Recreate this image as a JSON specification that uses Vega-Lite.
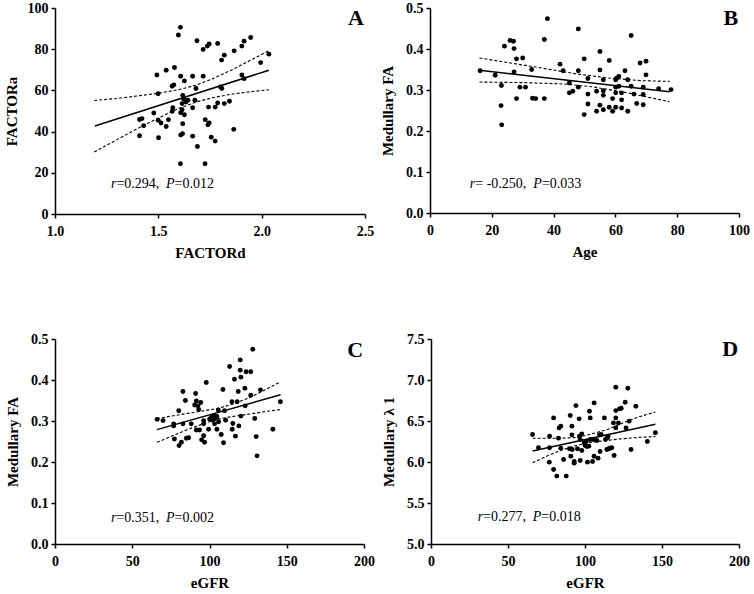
{
  "$schema": "https://vega.github.io/schema/vega-lite/v6.json",
  "padding": {"left": 4, "top": 1, "right": 5, "bottom": 2},
  "background": "white",
  "config": {
    "view": {"stroke": null},
    "font": "Liberation Serif",
    "axis": {
      "grid": false,
      "domainColor": "black",
      "domainWidth": 1.5,
      "tickColor": "black",
      "tickWidth": 1.5,
      "tickSize": 4,
      "labelFont": "Liberation Serif",
      "labelFontWeight": "bold",
      "labelFontSize": 14,
      "labelColor": "black",
      "labelFlush": false,
      "titleFont": "Liberation Serif",
      "titleFontWeight": "bold",
      "titleFontSize": 15,
      "titleColor": "black"
    },
    "axisX": {"labelPadding": 6, "titlePadding": 7},
    "axisY": {"labelPadding": 3, "titlePadding": 10},
    "text": {"font": "Liberation Serif", "color": "black", "fontSize": 14, "align": "left", "baseline": "middle"},
    "circle": {"color": "black", "opacity": 1, "size": 24},
    "line": {"color": "black"}
  },
  "datasets": {
    "A": [
      {"x":1.607,"y":90.6},{"x":1.597,"y":86.9},{"x":1.687,"y":84.1},{"x":1.737,"y":81.5},{"x":1.746,"y":82.5},
      {"x":1.717,"y":79.9},{"x":1.787,"y":82.8},{"x":1.867,"y":79.2},{"x":1.904,"y":81.5},{"x":1.915,"y":83.9},
      {"x":1.947,"y":85.7},{"x":1.819,"y":77.1},{"x":1.806,"y":74.7},{"x":1.995,"y":73.5},{"x":2.035,"y":77.6},
      {"x":1.904,"y":67.5},{"x":1.915,"y":65.7},{"x":1.801,"y":61.7},{"x":1.807,"y":60.9},{"x":1.682,"y":60.9},
      {"x":1.493,"y":67.5},{"x":1.538,"y":69.8},{"x":1.578,"y":71.1},{"x":1.608,"y":66.9},{"x":1.666,"y":66.9},
      {"x":1.717,"y":66.9},{"x":1.626,"y":64.6},{"x":1.567,"y":62.0},{"x":1.575,"y":62.7},{"x":1.499,"y":58.4},
      {"x":1.618,"y":57.6},{"x":1.623,"y":55.7},{"x":1.634,"y":54.4},{"x":1.615,"y":53.6},{"x":1.677,"y":55.2},
      {"x":1.643,"y":55.2},{"x":1.570,"y":51.6},{"x":1.567,"y":49.8},{"x":1.615,"y":50.6},{"x":1.608,"y":49.2},
      {"x":1.666,"y":51.6},{"x":1.626,"y":48.2},{"x":1.478,"y":49.0},{"x":1.499,"y":45.5},{"x":1.513,"y":44.2},
      {"x":1.549,"y":45.8},{"x":1.538,"y":42.5},{"x":1.409,"y":45.9},{"x":1.421,"y":46.3},{"x":1.429,"y":42.9},
      {"x":1.409,"y":38.0},{"x":1.501,"y":37.0},{"x":1.618,"y":43.8},{"x":1.608,"y":38.3},{"x":1.617,"y":39.0},
      {"x":1.666,"y":37.8},{"x":1.689,"y":32.8},{"x":1.756,"y":37.3},{"x":1.775,"y":35.4},{"x":1.607,"y":24.4},
      {"x":1.726,"y":24.4},{"x":1.743,"y":51.9},{"x":1.775,"y":51.9},{"x":1.787,"y":53.9},{"x":1.819,"y":53.6},
      {"x":1.844,"y":54.7},{"x":1.865,"y":41.1},{"x":1.727,"y":45.8},{"x":1.740,"y":43.3},{"x":1.746,"y":44.2}
    ],
    "Afit": [
      {"k":"fit","x":1.193,"y":42.7},{"k":"fit","x":2.035,"y":69.8},
      {"k":"up","x":1.19,"y":55.1},{"k":"up","x":1.3,"y":56.1},{"k":"up","x":1.4,"y":57.3},{"k":"up","x":1.5,"y":58.6},
      {"k":"up","x":1.6,"y":60.4},{"k":"up","x":1.68,"y":62.5},{"k":"up","x":1.76,"y":65.5},{"k":"up","x":1.85,"y":69.7},
      {"k":"up","x":1.95,"y":74.8},{"k":"up","x":2.035,"y":79.3},
      {"k":"lo","x":1.19,"y":30.1},{"k":"lo","x":1.3,"y":36.1},{"k":"lo","x":1.4,"y":41.5},{"k":"lo","x":1.5,"y":46.6},
      {"k":"lo","x":1.6,"y":51.3},{"k":"lo","x":1.68,"y":54.3},{"k":"lo","x":1.76,"y":56.4},{"k":"lo","x":1.85,"y":58.1},
      {"k":"lo","x":1.95,"y":59.4},{"k":"lo","x":2.035,"y":60.3}
    ],
    "B": [
      {"x":16.2,"y":0.347},{"x":21.1,"y":0.336},{"x":24.1,"y":0.407},{"x":25.9,"y":0.421},{"x":27.0,"y":0.419},
      {"x":27.2,"y":0.401},{"x":28.0,"y":0.376},{"x":30.0,"y":0.378},{"x":27.2,"y":0.344},{"x":23.1,"y":0.311},
      {"x":23.0,"y":0.262},{"x":23.2,"y":0.215},{"x":29.1,"y":0.307},{"x":30.9,"y":0.307},{"x":28.0,"y":0.279},
      {"x":32.9,"y":0.350},{"x":33.2,"y":0.280},{"x":34.2,"y":0.279},{"x":37.0,"y":0.279},{"x":37.0,"y":0.423},
      {"x":38.0,"y":0.474},{"x":42.1,"y":0.363},{"x":43.1,"y":0.347},{"x":45.1,"y":0.317},{"x":45.1,"y":0.293},
      {"x":46.2,"y":0.297},{"x":48.0,"y":0.449},{"x":48.0,"y":0.347},{"x":48.0,"y":0.307},{"x":49.9,"y":0.376},
      {"x":51.1,"y":0.328},{"x":51.1,"y":0.290},{"x":51.1,"y":0.266},{"x":49.9,"y":0.240},{"x":53.9,"y":0.297},
      {"x":53.9,"y":0.248},{"x":55.0,"y":0.394},{"x":55.0,"y":0.349},{"x":55.0,"y":0.263},{"x":56.1,"y":0.325},
      {"x":56.1,"y":0.298},{"x":56.1,"y":0.287},{"x":56.1,"y":0.252},{"x":58.0,"y":0.372},{"x":58.0,"y":0.258},
      {"x":59.1,"y":0.279},{"x":59.1,"y":0.248},{"x":60.1,"y":0.325},{"x":60.4,"y":0.329},{"x":60.1,"y":0.307},
      {"x":60.1,"y":0.293},{"x":60.1,"y":0.258},{"x":61.1,"y":0.333},{"x":61.1,"y":0.309},{"x":62.0,"y":0.293},
      {"x":62.0,"y":0.276},{"x":62.0,"y":0.256},{"x":63.1,"y":0.347},{"x":64.0,"y":0.325},{"x":64.0,"y":0.248},
      {"x":65.1,"y":0.433},{"x":65.1,"y":0.309},{"x":66.0,"y":0.290},{"x":66.9,"y":0.267},{"x":68.0,"y":0.366},
      {"x":69.0,"y":0.307},{"x":69.0,"y":0.289},{"x":69.0,"y":0.264},{"x":69.9,"y":0.370},{"x":69.9,"y":0.337},
      {"x":74.0,"y":0.303},{"x":78.0,"y":0.301}
    ],
    "Bfit": [
      {"k":"fit","x":16,"y":0.348},{"k":"fit","x":77.5,"y":0.296},
      {"k":"up","x":16,"y":0.378},{"k":"up","x":25.3,"y":0.3667},{"k":"up","x":36.1,"y":0.3537},{"k":"up","x":46.9,"y":0.3398},
      {"k":"up","x":57.7,"y":0.3293},{"k":"up","x":68.5,"y":0.3228},{"k":"up","x":77.5,"y":0.321},
      {"k":"lo","x":16,"y":0.3195},{"k":"lo","x":30.7,"y":0.3179},{"k":"lo","x":43.7,"y":0.3146},{"k":"lo","x":52.3,"y":0.308},
      {"k":"lo","x":63.1,"y":0.2943},{"k":"lo","x":77.5,"y":0.2715}
    ],
    "C": [
      {"x":66.1,"y":0.304},{"x":69.9,"y":0.301},{"x":76.8,"y":0.293},{"x":76.8,"y":0.288},{"x":77.3,"y":0.256},
      {"x":80.1,"y":0.325},{"x":80.3,"y":0.240},{"x":81.8,"y":0.248},{"x":82.8,"y":0.372},{"x":84.4,"y":0.350},
      {"x":82.8,"y":0.293},{"x":85.0,"y":0.258},{"x":86.5,"y":0.259},{"x":88.2,"y":0.293},{"x":91.0,"y":0.367},
      {"x":90.4,"y":0.339},{"x":91.5,"y":0.349},{"x":92.5,"y":0.337},{"x":93.0,"y":0.328},{"x":91.5,"y":0.278},
      {"x":93.6,"y":0.278},{"x":94.3,"y":0.345},{"x":94.9,"y":0.254},{"x":96.2,"y":0.264},{"x":96.8,"y":0.248},
      {"x":97.9,"y":0.394},{"x":96.2,"y":0.301},{"x":99.4,"y":0.280},{"x":100.1,"y":0.305},{"x":101.6,"y":0.311},
      {"x":102.2,"y":0.302},{"x":102.9,"y":0.313},{"x":103.3,"y":0.293},{"x":103.9,"y":0.307},{"x":104.8,"y":0.311},
      {"x":105.7,"y":0.327},{"x":105.9,"y":0.298},{"x":104.8,"y":0.280},{"x":107.6,"y":0.267},{"x":108.7,"y":0.377},
      {"x":109.1,"y":0.247},{"x":110.4,"y":0.302},{"x":109.7,"y":0.325},{"x":113.0,"y":0.433},{"x":114.5,"y":0.347},
      {"x":114.7,"y":0.280},{"x":115.1,"y":0.294},{"x":116.2,"y":0.402},{"x":116.8,"y":0.263},{"x":117.9,"y":0.347},
      {"x":118.6,"y":0.372},{"x":119.0,"y":0.288},{"x":119.9,"y":0.449},{"x":119.9,"y":0.424},{"x":120.3,"y":0.407},
      {"x":120.3,"y":0.312},{"x":122.9,"y":0.380},{"x":123.1,"y":0.337},{"x":123.7,"y":0.420},{"x":126.7,"y":0.420},
      {"x":126.7,"y":0.363},{"x":128.0,"y":0.475},{"x":129.3,"y":0.306},{"x":130.2,"y":0.262},{"x":130.8,"y":0.215},
      {"x":133.0,"y":0.376},{"x":141.0,"y":0.280},{"x":145.9,"y":0.347},{"x":96.2,"y":0.293}
    ],
    "Cfit": [
      {"k":"fit","x":66,"y":0.279},{"k":"fit","x":146,"y":0.364},
      {"k":"up","x":66,"y":0.306},{"k":"up","x":85,"y":0.318},{"k":"up","x":104.5,"y":0.330},{"k":"up","x":115,"y":0.341},
      {"k":"up","x":126,"y":0.357},{"k":"up","x":136,"y":0.376},{"k":"up","x":146,"y":0.396},
      {"k":"lo","x":66,"y":0.248},{"k":"lo","x":85,"y":0.278},{"k":"lo","x":95,"y":0.292},{"k":"lo","x":104.5,"y":0.304},
      {"k":"lo","x":115,"y":0.311},{"k":"lo","x":126,"y":0.317},{"k":"lo","x":136,"y":0.323},{"k":"lo","x":146,"y":0.328}
    ],
    "D": [
      {"x":65.9,"y":6.335},{"x":69.8,"y":6.173},{"x":77.0,"y":6.315},{"x":77.0,"y":6.173},{"x":76.8,"y":5.998},
      {"x":79.6,"y":6.538},{"x":79.6,"y":5.909},{"x":81.7,"y":5.828},{"x":82.8,"y":6.291},{"x":83.2,"y":6.416},
      {"x":84.3,"y":6.437},{"x":84.3,"y":6.169},{"x":86.1,"y":6.031},{"x":87.8,"y":5.828},{"x":90.4,"y":6.567},
      {"x":91.5,"y":6.437},{"x":91.5,"y":6.331},{"x":89.9,"y":6.161},{"x":90.8,"y":6.071},{"x":91.7,"y":6.153},
      {"x":93.0,"y":6.006},{"x":93.0,"y":5.986},{"x":94.1,"y":6.688},{"x":95.1,"y":6.161},{"x":96.2,"y":6.526},
      {"x":96.4,"y":6.315},{"x":96.9,"y":6.274},{"x":96.9,"y":6.019},{"x":97.9,"y":6.343},{"x":97.9,"y":6.140},
      {"x":99.5,"y":6.234},{"x":100.1,"y":6.201},{"x":100.8,"y":6.250},{"x":101.2,"y":6.189},{"x":101.6,"y":5.998},
      {"x":102.5,"y":6.193},{"x":102.9,"y":6.619},{"x":103.4,"y":6.538},{"x":103.4,"y":6.274},{"x":104.9,"y":6.006},
      {"x":105.5,"y":6.274},{"x":105.9,"y":6.721},{"x":105.9,"y":6.071},{"x":107.7,"y":6.262},{"x":108.5,"y":6.047},
      {"x":109.4,"y":6.331},{"x":109.8,"y":6.128},{"x":110.5,"y":6.335},{"x":112.6,"y":6.538},{"x":113.3,"y":6.274},
      {"x":114.2,"y":6.153},{"x":114.6,"y":6.295},{"x":115.0,"y":6.315},{"x":115.5,"y":6.161},{"x":116.3,"y":6.169},
      {"x":117.4,"y":6.173},{"x":118.5,"y":6.477},{"x":118.9,"y":6.080},{"x":120.0,"y":6.912},{"x":120.0,"y":6.627},
      {"x":120.0,"y":6.538},{"x":120.0,"y":6.416},{"x":121.7,"y":6.477},{"x":122.4,"y":6.648},{"x":123.5,"y":6.656},
      {"x":126.1,"y":6.729},{"x":126.7,"y":6.416},{"x":127.8,"y":6.899},{"x":128.6,"y":6.498},{"x":129.9,"y":6.153},
      {"x":133.0,"y":6.680},{"x":140.5,"y":6.250},{"x":145.7,"y":6.356}
    ],
    "Dfit": [
      {"k":"fit","x":66,"y":6.135},{"k":"fit","x":145.7,"y":6.46},
      {"k":"up","x":66,"y":6.29},{"k":"up","x":84,"y":6.29},{"k":"up","x":95,"y":6.30},{"k":"up","x":104,"y":6.34},
      {"k":"up","x":115,"y":6.40},{"k":"up","x":125,"y":6.48},{"k":"up","x":135,"y":6.55},{"k":"up","x":145.7,"y":6.61},
      {"k":"lo","x":66,"y":5.99},{"k":"lo","x":75,"y":6.07},{"k":"lo","x":84,"y":6.14},{"k":"lo","x":95,"y":6.205},
      {"k":"lo","x":104,"y":6.24},{"k":"lo","x":115,"y":6.265},{"k":"lo","x":125,"y":6.285},{"k":"lo","x":135,"y":6.30},
      {"k":"lo","x":145.7,"y":6.31}
    ]
  },
  "spacing": 72,
  "vconcat": [
    {
      "spacing": 6,
      "hconcat": [
        {
          "width": 310, "height": 206,
          "layer": [
            {"data": {"name": "A"}, "mark": {"type": "circle"},
             "encoding": {
               "x": {"field": "x", "type": "quantitative", "title": "FACTORd", "scale": {"domain": [1, 2.5], "nice": false, "zero": false}, "axis": {"values": [1, 1.5, 2, 2.5], "format": ".1f"}},
               "y": {"field": "y", "type": "quantitative", "title": "FACTORa", "scale": {"domain": [0, 100], "nice": false}, "axis": {"values": [0, 20, 40, 60, 80, 100], "titlePadding": 8}}}},
            {"data": {"name": "Afit"}, "transform": [{"filter": "datum.k == 'fit'"}], "mark": {"type": "line", "strokeWidth": 1.5},
             "encoding": {"x": {"field": "x", "type": "quantitative", "title": "FACTORd"}, "y": {"field": "y", "type": "quantitative", "title": "FACTORa"}}},
            {"data": {"name": "Afit"}, "transform": [{"filter": "datum.k != 'fit'"}], "mark": {"type": "line", "strokeWidth": 1.1, "strokeDash": [3, 2]},
             "encoding": {"x": {"field": "x", "type": "quantitative", "title": "FACTORd"}, "y": {"field": "y", "type": "quantitative", "title": "FACTORa"}, "detail": {"field": "k"}}},
            {"data": {"values": [{"label": "A"}]}, "mark": {"type": "text", "align": "right", "baseline": "alphabetic", "fontSize": 22, "fontWeight": "bold"}, "encoding": {"x": {"datum": 2.495}, "y": {"datum": 91.7}, "text": {"field": "label"}}},
            {"data": {"values": [{"label": "r"}]}, "mark": {"type": "text", "fontStyle": "italic"}, "encoding": {"x": {"datum": 1.271}, "y": {"datum": 14.4}, "text": {"field": "label"}}},
            {"data": {"values": [{"label": "=0.294,"}]}, "mark": {"type": "text", "dx": 5.4}, "encoding": {"x": {"datum": 1.271}, "y": {"datum": 14.4}, "text": {"field": "label"}}},
            {"data": {"values": [{"label": "P"}]}, "mark": {"type": "text", "dx": 55, "fontStyle": "italic"}, "encoding": {"x": {"datum": 1.271}, "y": {"datum": 14.4}, "text": {"field": "label"}}},
            {"data": {"values": [{"label": "=0.012"}]}, "mark": {"type": "text", "dx": 63.6}, "encoding": {"x": {"datum": 1.271}, "y": {"datum": 14.4}, "text": {"field": "label"}}}
          ]
        },
        {
          "width": 309, "height": 205,
          "layer": [
            {"data": {"name": "B"}, "mark": {"type": "circle"},
             "encoding": {
               "x": {"field": "x", "type": "quantitative", "title": "Age", "scale": {"domain": [0, 100], "nice": false}, "axis": {"values": [0, 20, 40, 60, 80, 100]}},
               "y": {"field": "y", "type": "quantitative", "title": "Medullary FA", "scale": {"domain": [0, 0.5], "nice": false}, "axis": {"values": [0, 0.1, 0.2, 0.3, 0.4, 0.5], "format": ".1f"}}}},
            {"data": {"name": "Bfit"}, "transform": [{"filter": "datum.k == 'fit'"}], "mark": {"type": "line", "strokeWidth": 1.5},
             "encoding": {"x": {"field": "x", "type": "quantitative", "title": "Age"}, "y": {"field": "y", "type": "quantitative", "title": "Medullary FA"}}},
            {"data": {"name": "Bfit"}, "transform": [{"filter": "datum.k != 'fit'"}], "mark": {"type": "line", "strokeWidth": 1.1, "strokeDash": [3, 2]},
             "encoding": {"x": {"field": "x", "type": "quantitative", "title": "Age"}, "y": {"field": "y", "type": "quantitative", "title": "Medullary FA"}, "detail": {"field": "k"}}},
            {"data": {"values": [{"label": "B"}]}, "mark": {"type": "text", "align": "right", "baseline": "alphabetic", "fontSize": 22, "fontWeight": "bold"}, "encoding": {"x": {"datum": 99.7}, "y": {"datum": 0.4585}, "text": {"field": "label"}}},
            {"data": {"values": [{"label": "r"}]}, "mark": {"type": "text", "fontStyle": "italic"}, "encoding": {"x": {"datum": 12.9}, "y": {"datum": 0.0707}, "text": {"field": "label"}}},
            {"data": {"values": [{"label": "= -0.250,"}]}, "mark": {"type": "text", "dx": 5.4}, "encoding": {"x": {"datum": 12.9}, "y": {"datum": 0.0707}, "text": {"field": "label"}}},
            {"data": {"values": [{"label": "P"}]}, "mark": {"type": "text", "dx": 63.5, "fontStyle": "italic"}, "encoding": {"x": {"datum": 12.9}, "y": {"datum": 0.0707}, "text": {"field": "label"}}},
            {"data": {"values": [{"label": "=0.033"}]}, "mark": {"type": "text", "dx": 72.1}, "encoding": {"x": {"datum": 12.9}, "y": {"datum": 0.0707}, "text": {"field": "label"}}}
          ]
        }
      ]
    },
    {
      "spacing": 6,
      "hconcat": [
        {
          "width": 309, "height": 205,
          "layer": [
            {"data": {"name": "C"}, "mark": {"type": "circle"},
             "encoding": {
               "x": {"field": "x", "type": "quantitative", "title": "eGFR", "scale": {"domain": [0, 200], "nice": false}, "axis": {"values": [0, 50, 100, 150, 200]}},
               "y": {"field": "y", "type": "quantitative", "title": "Medullary FA", "scale": {"domain": [0, 0.5], "nice": false}, "axis": {"values": [0, 0.1, 0.2, 0.3, 0.4, 0.5], "format": ".1f"}}}},
            {"data": {"name": "Cfit"}, "transform": [{"filter": "datum.k == 'fit'"}], "mark": {"type": "line", "strokeWidth": 1.5},
             "encoding": {"x": {"field": "x", "type": "quantitative", "title": "eGFR"}, "y": {"field": "y", "type": "quantitative", "title": "Medullary FA"}}},
            {"data": {"name": "Cfit"}, "transform": [{"filter": "datum.k != 'fit'"}], "mark": {"type": "line", "strokeWidth": 1.1, "strokeDash": [3, 2]},
             "encoding": {"x": {"field": "x", "type": "quantitative", "title": "eGFR"}, "y": {"field": "y", "type": "quantitative", "title": "Medullary FA"}, "detail": {"field": "k"}}},
            {"data": {"values": [{"label": "C"}]}, "mark": {"type": "text", "align": "right", "baseline": "alphabetic", "fontSize": 22, "fontWeight": "bold"}, "encoding": {"x": {"datum": 199.4}, "y": {"datum": 0.456}, "text": {"field": "label"}}},
            {"data": {"values": [{"label": "r"}]}, "mark": {"type": "text", "fontStyle": "italic"}, "encoding": {"x": {"datum": 36.2}, "y": {"datum": 0.064}, "text": {"field": "label"}}},
            {"data": {"values": [{"label": "=0.351,"}]}, "mark": {"type": "text", "dx": 5.4}, "encoding": {"x": {"datum": 36.2}, "y": {"datum": 0.064}, "text": {"field": "label"}}},
            {"data": {"values": [{"label": "P"}]}, "mark": {"type": "text", "dx": 55, "fontStyle": "italic"}, "encoding": {"x": {"datum": 36.2}, "y": {"datum": 0.064}, "text": {"field": "label"}}},
            {"data": {"values": [{"label": "=0.002"}]}, "mark": {"type": "text", "dx": 63.6}, "encoding": {"x": {"datum": 36.2}, "y": {"datum": 0.064}, "text": {"field": "label"}}}
          ]
        },
        {
          "width": 308, "height": 205,
          "layer": [
            {"data": {"name": "D"}, "mark": {"type": "circle"},
             "encoding": {
               "x": {"field": "x", "type": "quantitative", "title": "eGFR", "scale": {"domain": [0, 200], "nice": false}, "axis": {"values": [0, 50, 100, 150, 200]}},
               "y": {"field": "y", "type": "quantitative", "title": "Medullary λ 1", "scale": {"domain": [5, 7.5], "nice": false, "zero": false}, "axis": {"values": [5, 5.5, 6, 6.5, 7, 7.5], "format": ".1f"}}}},
            {"data": {"name": "Dfit"}, "transform": [{"filter": "datum.k == 'fit'"}], "mark": {"type": "line", "strokeWidth": 1.5},
             "encoding": {"x": {"field": "x", "type": "quantitative", "title": "eGFR"}, "y": {"field": "y", "type": "quantitative", "title": "Medullary λ 1"}}},
            {"data": {"name": "Dfit"}, "transform": [{"filter": "datum.k != 'fit'"}], "mark": {"type": "line", "strokeWidth": 1.1, "strokeDash": [3, 2]},
             "encoding": {"x": {"field": "x", "type": "quantitative", "title": "eGFR"}, "y": {"field": "y", "type": "quantitative", "title": "Medullary λ 1"}, "detail": {"field": "k"}}},
            {"data": {"values": [{"label": "D"}]}, "mark": {"type": "text", "align": "right", "baseline": "alphabetic", "fontSize": 22, "fontWeight": "bold"}, "encoding": {"x": {"datum": 199.4}, "y": {"datum": 7.293}, "text": {"field": "label"}}},
            {"data": {"values": [{"label": "r"}]}, "mark": {"type": "text", "fontStyle": "italic"}, "encoding": {"x": {"datum": 30.3}, "y": {"datum": 5.326}, "text": {"field": "label"}}},
            {"data": {"values": [{"label": "=0.277,"}]}, "mark": {"type": "text", "dx": 5.4}, "encoding": {"x": {"datum": 30.3}, "y": {"datum": 5.326}, "text": {"field": "label"}}},
            {"data": {"values": [{"label": "P"}]}, "mark": {"type": "text", "dx": 55, "fontStyle": "italic"}, "encoding": {"x": {"datum": 30.3}, "y": {"datum": 5.326}, "text": {"field": "label"}}},
            {"data": {"values": [{"label": "=0.018"}]}, "mark": {"type": "text", "dx": 63.6}, "encoding": {"x": {"datum": 30.3}, "y": {"datum": 5.326}, "text": {"field": "label"}}}
          ]
        }
      ]
    }
  ]
}
